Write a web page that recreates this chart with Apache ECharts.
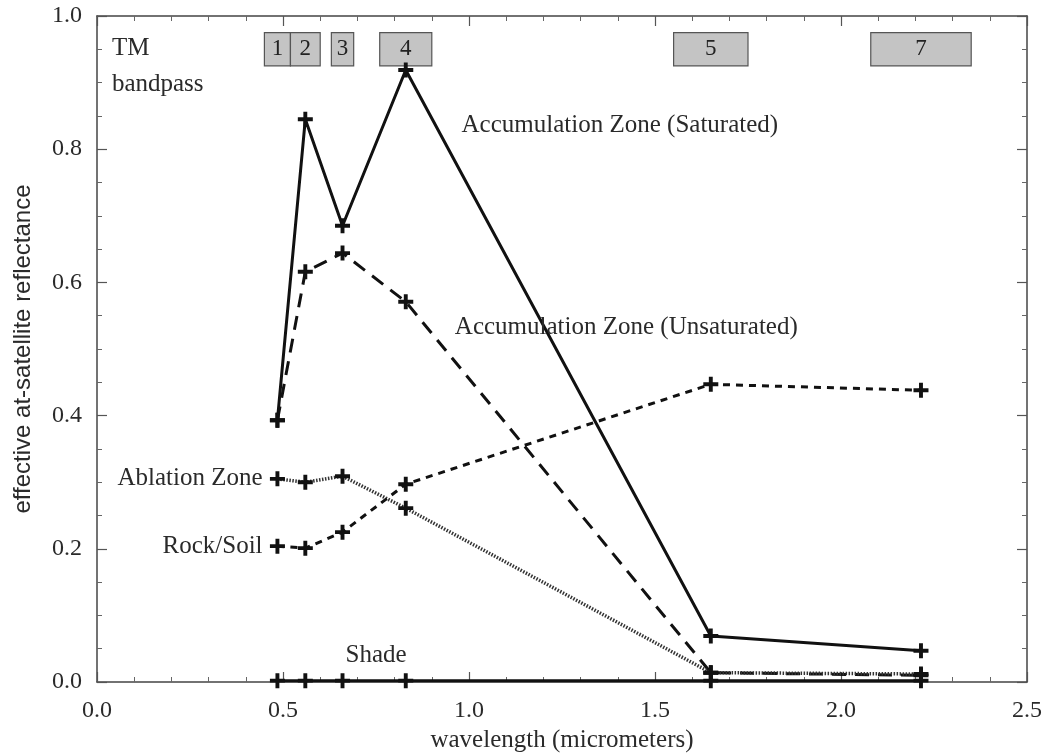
<!DOCTYPE html>
<html><head><meta charset="utf-8">
<script src="https://cdn.jsdelivr.net/npm/echarts@6/dist/echarts.min.js"></script>
<style>html,body{margin:0;padding:0;background:#fff}#c{width:1046px;height:753px}</style>
</head><body><div id="c"></div>
<script>
const wavelengths = [0.485, 0.56, 0.66, 0.83, 1.65, 2.215];
const accSaturated = [0.393, 0.845, 0.685, 0.919, 0.069, 0.047];
const accUnsaturated = [0.393, 0.616, 0.644, 0.571, 0.014, 0.010];
const ablation = [0.305, 0.300, 0.309, 0.261, 0.014, 0.012];
const rockSoil = [0.204, 0.201, 0.225, 0.297, 0.447, 0.438];
const shade = [0.002, 0.002, 0.002, 0.002, 0.002, 0.002];
const bandNames = ['1', '2', '3', '4', '5', '7'];
const bandStart = [0.45, 0.52, 0.63, 0.76, 1.55, 2.08];
const bandEnd = [0.52, 0.60, 0.69, 0.90, 1.75, 2.35];
const bandTop = 0.975, bandBottom = 0.925;

const FONT = 'Liberation Serif';
const TXT = '#2a2a2a';
const plus = 'path://M-1.3,-5H1.3V-1.3H5V1.3H1.3V5H-1.3V1.3H-5V-1.3H-1.3Z';

function pts(ys) { return wavelengths.map((x, i) => [x, ys[i]]); }

function series(name, ys, lineType, color, width) {
  return {
    name, type: 'line', data: pts(ys), symbol: plus, symbolSize: 15,
    itemStyle: { color: '#111' },
    lineStyle: { color: color, width: width, type: lineType },
    z: 3, silent: true
  };
}

function note(text, x, y, align) {
  return { coord: [x, y], value: text, label: { align: align || 'left' } };
}

const axisCommon = {
  min: 0, max: 2.5, interval: 0.5, type: 'value',
  axisLine: { show: true, onZero: false, lineStyle: { color: '#444', width: 1.5 } },
  axisTick: { show: true, inside: true, length: 10, lineStyle: { color: '#555', width: 1.2 } },
  minorTick: { show: true, splitNumber: 5, length: 5, lineStyle: { color: '#666' } },
  splitLine: { show: false }
};
const yCommon = {
  min: 0, max: 1.0, interval: 0.2, type: 'value',
  axisLine: { show: true, onZero: false, lineStyle: { color: '#444', width: 1.5 } },
  axisTick: { show: true, inside: true, length: 10, lineStyle: { color: '#555', width: 1.2 } },
  minorTick: { show: true, splitNumber: 4, length: 5, lineStyle: { color: '#666' } },
  splitLine: { show: false }
};

const chart = echarts.init(document.getElementById('c'), null, { renderer: 'canvas' });
chart.setOption({
  backgroundColor: '#fff',
  animation: false,
  grid: { left: 97, right: 19, top: 16, bottom: 71, containLabel: false, outerBoundsMode: 'none' },
  xAxis: [
    Object.assign({}, axisCommon, {
      position: 'bottom',
      name: 'wavelength (micrometers)', nameLocation: 'middle', nameGap: 44,
      nameTextStyle: { fontFamily: FONT, fontSize: 25, color: TXT },
      axisLabel: { fontFamily: FONT, fontSize: 24, color: TXT, margin: 17,
        formatter: v => v.toFixed(1) }
    }),
    Object.assign({}, axisCommon, { position: 'top', axisLabel: { show: false } })
  ],
  yAxis: [
    Object.assign({}, yCommon, {
      position: 'left',
      name: 'effective at-satellite reflectance', nameLocation: 'middle', nameGap: 62,
      nameTextStyle: { fontFamily: 'Liberation Sans Narrow, Liberation Sans', fontSize: 24, color: TXT },
      axisLabel: { fontFamily: FONT, fontSize: 24, color: TXT, margin: 15,
        formatter: v => v.toFixed(1) }
    }),
    Object.assign({}, yCommon, { position: 'right', axisLabel: { show: false } })
  ],
  series: [
    {
      name: 'bands', type: 'line', data: [], silent: true,
      markArea: {
        silent: true,
        itemStyle: { color: '#c4c4c4', borderColor: '#555', borderWidth: 1.2 },
        label: { show: true, position: 'inside', fontFamily: FONT, fontSize: 23, color: '#222' },
        data: bandNames.map((n, i) => [
          { name: n, coord: [bandStart[i], bandTop] },
          { coord: [bandEnd[i], bandBottom] }
        ])
      }
    },
    Object.assign(series('Accumulation Zone (Saturated)', accSaturated, 'solid', '#111', 3), {
      markPoint: {
        symbol: 'circle', symbolSize: 0, silent: true,
        label: { show: true, formatter: p => p.value, fontFamily: FONT, fontSize: 25, color: TXT, position: 'inside' },
        data: [
          note('Accumulation Zone (Saturated)', 0.98, 0.835),
          note('Accumulation Zone (Unsaturated)', 0.962, 0.532),
          note('Ablation Zone', 0.445, 0.305, 'right'),
          note('Rock/Soil', 0.445, 0.204, 'right'),
          note('Shade', 0.668, 0.04),
          note('TM', 0.04, 0.952),
          note('bandpass', 0.04, 0.897)
        ]
      }
    }),
    series('Accumulation Zone (Unsaturated)', accUnsaturated, [14, 9], '#111', 3),
    series('Ablation Zone', ablation, [1.5, 1.5], '#333', 3.5),
    series('Rock/Soil', rockSoil, [7, 6], '#111', 3),
    series('Shade', shade, 'solid', '#111', 3)
  ]
});
</script></body></html>
